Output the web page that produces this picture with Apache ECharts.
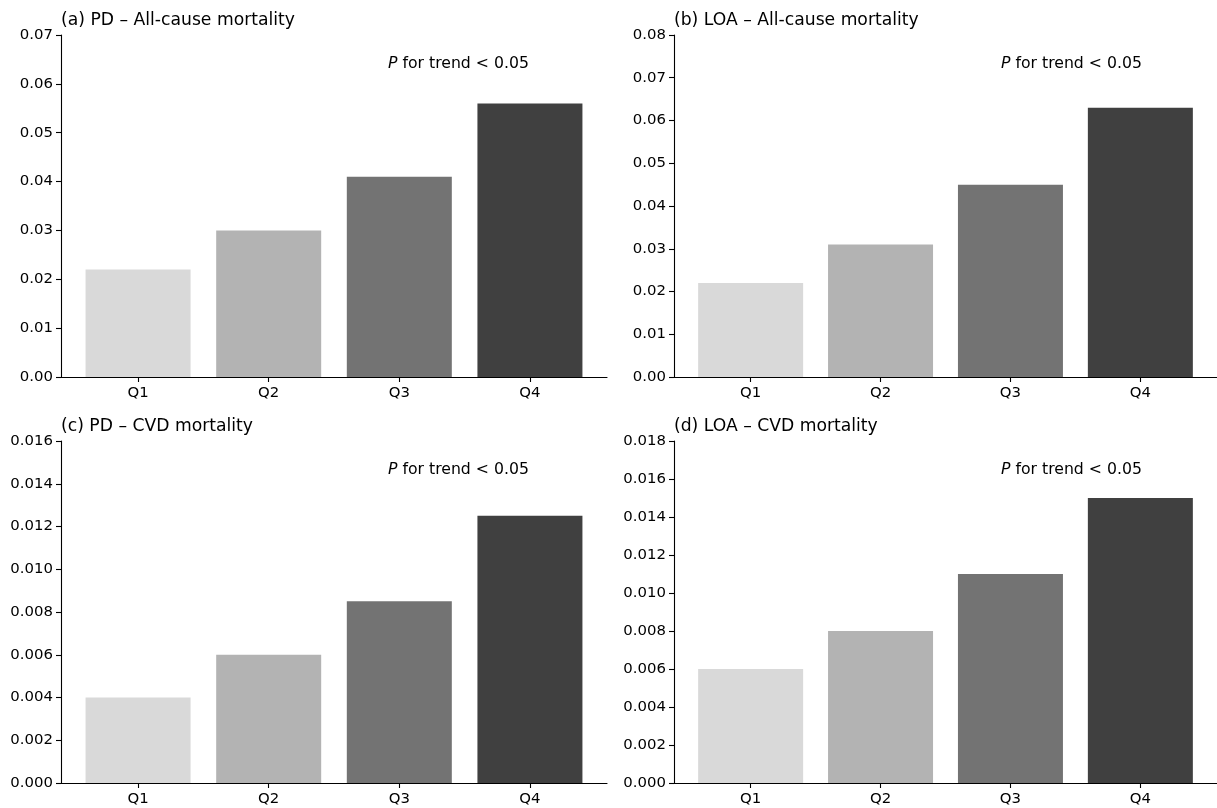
<!DOCTYPE html>
<html>
<head>
<meta charset="utf-8">
<script src="https://cdn.jsdelivr.net/npm/echarts@6/dist/echarts.min.js"></script>
<style>html,body{margin:0;padding:0;background:#fff}#c{width:1217px;height:808px}</style>
</head>
<body>
<div id="c"></div>
<script>
const categories = ['Q1', 'Q2', 'Q3', 'Q4'];
const barColors = ['#d9d9d9', '#b3b3b3', '#737373', '#404040'];
const titles = ['(a) PD – All-cause mortality', '(b) LOA – All-cause mortality', '(c) PD – CVD mortality', '(d) LOA – CVD mortality'];
const valuesA = [0.022, 0.030, 0.041, 0.056];
const valuesB = [0.022, 0.031, 0.045, 0.063];
const valuesC = [0.004, 0.006, 0.0085, 0.0125];
const valuesD = [0.006, 0.008, 0.011, 0.015];
const yMax = [0.07, 0.08, 0.016, 0.018];
const yStep = [0.01, 0.01, 0.002, 0.002];
const yDecimals = [2, 2, 3, 3];
const trendText = 'P for trend < 0.05';

const allValues = [valuesA, valuesB, valuesC, valuesD];
const gridPos = [
  {left: 61, top: 35, width: 546}, {left: 674, top: 35, width: 548},
  {left: 61, top: 441, width: 546}, {left: 674, top: 441, width: 548}
];
const GH = 342;
const font = 'DejaVu Sans';

const grids = [], xAxes = [], yAxes = [], series = [], graphics = [];
allValues.forEach((vals, i) => {
  grids.push({left: gridPos[i].left, top: gridPos[i].top, width: gridPos[i].width, height: GH, containLabel: false});
  xAxes.push({
    type: 'value', gridIndex: i, min: -0.59, max: 3.59,
    axisLine: {show: true, onZero: false, lineStyle: {color: '#000', width: 1.1}},
    axisTick: {show: true, length: 5, lineStyle: {color: '#000', width: 1.1}, customValues: [0, 1, 2, 3]},
    axisLabel: {show: true, customValues: [0, 1, 2, 3], formatter: v => categories[Math.round(v)] || '',
      color: '#000', fontFamily: font, fontSize: 14.9, margin: 9},
    splitLine: {show: false}
  });
  yAxes.push({
    type: 'value', gridIndex: i, min: 0, max: yMax[i], interval: yStep[i],
    axisLine: {show: true, onZero: false, lineStyle: {color: '#000', width: 1.1}},
    axisTick: {show: true, length: 5, lineStyle: {color: '#000', width: 1.1}},
    axisLabel: {color: '#000', fontFamily: font, fontSize: 14.9, margin: 8,
      formatter: v => v.toFixed(yDecimals[i])},
    splitLine: {show: false}
  });
  series.push({
    type: 'bar', xAxisIndex: i, yAxisIndex: i, barWidth: 105,
    data: vals.map((v, k) => ({value: [k, v], itemStyle: {color: barColors[k]}})),
    silent: true, animation: false
  });
  graphics.push({
    type: 'text', left: gridPos[i].left, top: gridPos[i].top - 23,
    style: {text: titles[i], fontFamily: font, fontSize: 17.2, fill: '#000'}
  });
  graphics.push({
    type: 'text', left: gridPos[i].left + 327, top: gridPos[i].top + 21,
    style: {
      text: '{i|P} for trend < 0.05',
      rich: {i: {fontStyle: 'italic', fontFamily: font, fontSize: 15.7, fill: '#000'}},
      fontFamily: font, fontSize: 15.7, fill: '#000'
    }
  });
});

const chart = echarts.init(document.getElementById('c'), null, {renderer: 'canvas'});
chart.setOption({
  animation: false,
  backgroundColor: '#fff',
  grid: grids, xAxis: xAxes, yAxis: yAxes, series: series, graphic: graphics
});
</script>
</body>
</html>
